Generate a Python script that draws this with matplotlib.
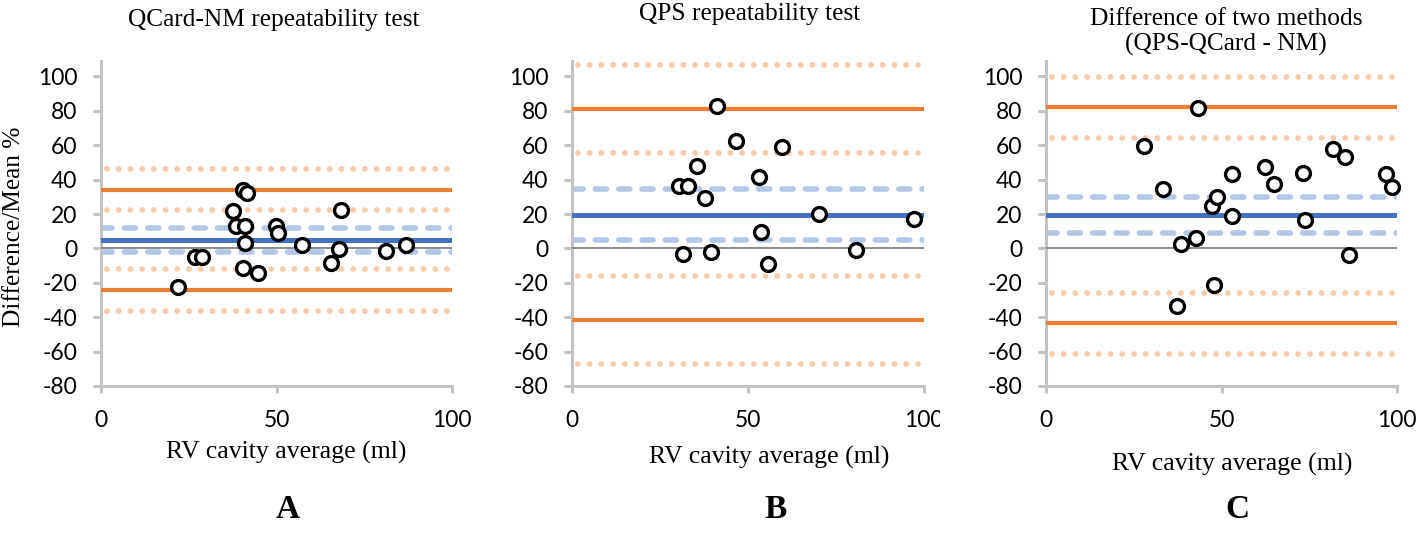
import matplotlib
matplotlib.use('Agg')
import matplotlib.pyplot as plt
from matplotlib.transforms import Bbox

plt.rcParams['axes.unicode_minus'] = False

# panel A: QCard-NM repeatability
xa = [22.0, 26.8, 28.7, 37.5, 38.6, 41.0, 40.5, 41.5, 40.9, 40.4, 44.6, 49.8, 50.5, 57.3, 65.5, 67.9, 68.5, 81.2, 86.9]
ya = [-22.4, -5.2, -5.2, 21.5, 12.8, 12.8, 33.9, 32.0, 3.3, -11.6, -14.1, 12.8, 9.2, 1.8, -8.5, -0.6, 22.5, -1.3, 2.2]
lines_a = {'mean': 5.0, 'loa': [34.2, -23.9], 'mean_ci': [12.0, -1.9], 'loa_ci': [46.2, 22.1, -11.7, -36.1]}

# panel B: QPS repeatability
xb = [41.1, 46.5, 59.6, 35.6, 30.4, 33.0, 37.7, 53.0, 70.2, 97.1, 53.7, 31.6, 39.6, 55.6, 80.7]
yb = [82.9, 62.5, 58.7, 47.9, 36.3, 36.5, 29.5, 41.6, 20.2, 16.9, 9.6, -3.0, -2.2, -8.9, -1.2]
lines_b = {'mean': 19.7, 'loa': [80.9, -41.5], 'mean_ci': [34.4, 4.9], 'loa_ci': [106.5, 55.4, -16.2, -67.2]}

# panel C: difference of two methods
xc = [43.2, 27.8, 33.3, 38.6, 42.7, 37.3, 47.9, 47.2, 48.7, 52.9, 53.0, 62.3, 65.0, 73.1, 73.8, 81.7, 85.3, 86.4, 97.0, 98.5]
yc = [81.5, 59.3, 34.5, 2.6, 5.8, -33.7, -21.0, 24.4, 30.2, 43.0, 18.8, 47.2, 37.3, 44.0, 16.8, 57.7, 53.0, -3.6, 43.3, 35.9]
lines_c = {'mean': 19.4, 'loa': [82.1, -43.6], 'mean_ci': [29.8, 9.1], 'loa_ci': [99.8, 64.5, -26.0, -61.5]}

titles = ['QCard-NM repeatability test', 'QPS repeatability test', 'Difference of two methods\n(QPS-QCard - NM)']
letters = ['A', 'B', 'C']
xlabel = 'RV cavity average (ml)'
ylabel = 'Difference/Mean %'
yticks = [-80, -60, -40, -20, 0, 20, 40, 60, 80, 100]
xticks = [0, 50, 100]

W, H = 1417, 533
fig = plt.figure(figsize=(W / 100, H / 100), dpi=100)

serif = 'Liberation Serif'
sans = 'Lato'
axis_grey = '#C3C3C3'

def px(x, y):
    return x / W, 1 - y / H

# left edges / widths in pixels
ax_left = [101, 572, 1046]
ax_width = [351, 352, 351]
title_pos = [(274, 20), (750, 14), (1226, 32)]
xlabel_pos = [(286, 452), (769, 457), (1232, 464)]
letter_pos = [(288, 510), (776, 510), (1237, 510)]

panels = [(xa, ya, lines_a), (xb, yb, lines_b), (xc, yc, lines_c)]

for i, (xs, ys, ln) in enumerate(panels):
    ax = fig.add_axes([ax_left[i] / W, 147 / H, ax_width[i] / W, 325 / H])
    ax.set_xlim(0, 100)
    ax.set_ylim(-80, 109)

    for v in ln['loa_ci']:
        ax.axhline(v, color='#F8CBAD', lw=4.2, ls=(1.0, (0.01, 2.0)),
                   dash_capstyle='round', zorder=1)
    for v in ln['mean_ci']:
        ax.axhline(v, color='#B4C7E7', lw=4.0, ls=(0, (2.0, 2.2)),
                   dash_capstyle='round', zorder=2)
    ax.axhline(0, color='#808080', lw=1.3, zorder=3)
    ax.axhline(ln['mean'], color='#4472C4', lw=3.6, zorder=3)
    for v in ln['loa']:
        ax.axhline(v, color='#ED7D31', lw=3.0, zorder=3)

    ax.plot(xs, ys, 'o', ms=10, mfc='white', mec='black', mew=2.4,
            ls='none', zorder=5, clip_on=False)

    for s in ['top', 'right']:
        ax.spines[s].set_visible(False)
    for s in ['left', 'bottom']:
        ax.spines[s].set_color(axis_grey)
        ax.spines[s].set_linewidth(2.2)
    ax.set_yticks(yticks)
    ax.set_xticks(xticks)
    ax.tick_params(axis='y', colors=axis_grey, length=6, width=2.2, pad=11,
                   labelcolor='black', labelsize=16.5)
    ax.tick_params(axis='x', colors=axis_grey, length=5, width=2.2, pad=12,
                   labelcolor='black', labelsize=16.5)
    for lab in ax.get_xticklabels() + ax.get_yticklabels():
        lab.set_family(sans)
    if i == 1:
        # the middle panel's last x label is cut by the next panel
        for lab in ax.get_xticklabels():
            lab.set_clip_box(Bbox.from_extents(0, 0, 940, H))
            lab.set_clip_on(True)

    tx, ty = px(*title_pos[i])
    fig.text(tx, ty, titles[i], ha='center', va='center', family=serif,
             fontsize=18.3, linespacing=1.15)
    lx, ly = px(*xlabel_pos[i])
    fig.text(lx, ly, xlabel, ha='center', va='center', family=serif, fontsize=18.5)
    cx, cy = px(*letter_pos[i])
    fig.text(cx, cy, letters[i], ha='center', va='center', family=serif,
             fontsize=24, fontweight='bold')

yx, yy = px(14, 227)
fig.text(yx, yy, ylabel, ha='center', va='center', rotation=90,
         family=serif, fontsize=18.3)

fig.savefig('out.png', dpi=100)
